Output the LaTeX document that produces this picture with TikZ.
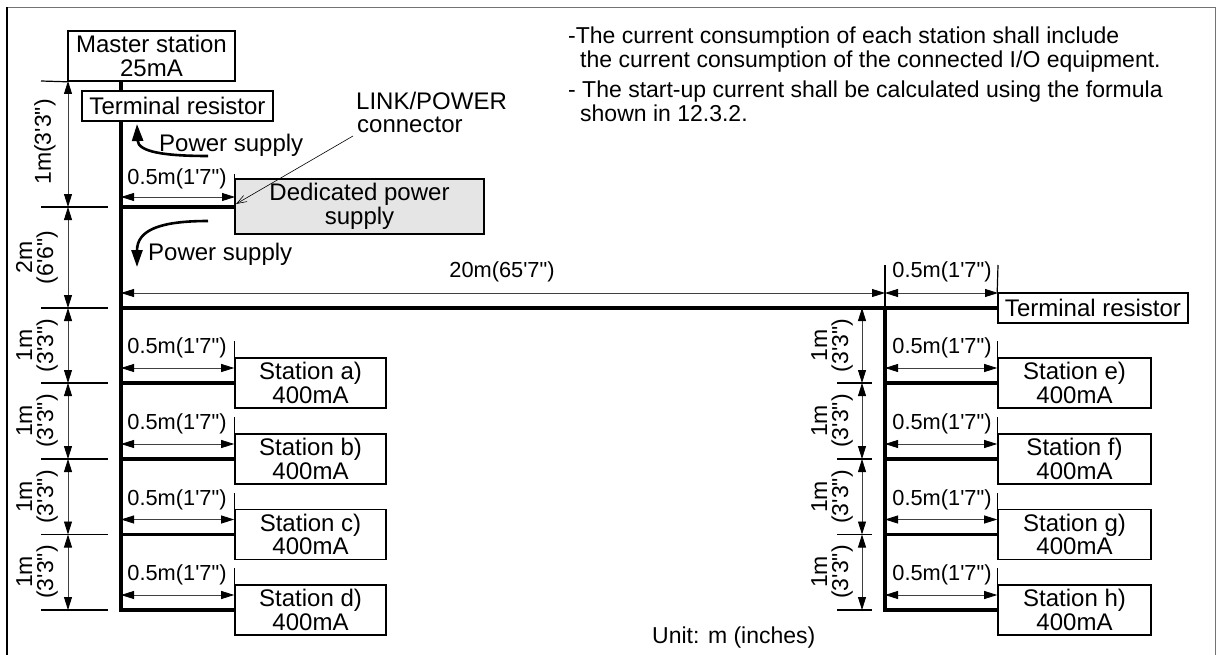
\documentclass[tikz,border=0pt]{standalone}
\usepackage{fontspec}
\setmainfont{Liberation Sans}[Ligatures=TeXOff]
\usetikzlibrary{arrows.meta,backgrounds}
\newcommand\mainfs{\fontsize{24}{23.5}\selectfont}
\newcommand\notefs{\fontsize{23}{24}\selectfont}
\newcommand\dimfs{\fontsize{21.8}{22}\selectfont}
\newcommand\vdimfs{\fontsize{23}{21}\selectfont}
\begin{document}
\begin{tikzpicture}[x=1pt,y=-1pt,
  box/.style={draw,line width=1.6pt,fill=white,inner sep=0pt,align=center,font=\mainfs},
  station/.style={box,minimum width=151pt,minimum height=50pt},
  stationR/.style={box,minimum width=153pt,minimum height=50pt},
  bus/.style={line width=3.4pt,line cap=rect},
  ext/.style={line width=1.2pt},
  dim/.style={line width=0.8pt,black!75,{Triangle[length=13pt,width=8pt,color=black]}-{Triangle[length=13pt,width=8pt,color=black]}},
  dimlbl/.style={font=\dimfs,inner sep=0pt},
  vlbl/.style={font=\vdimfs,inner sep=0pt,rotate=90,align=center},
  txt/.style={font=\mainfs,inner sep=0pt},
  note/.style={font=\notefs,inner sep=0pt,anchor=base west},
  flow/.style={line width=2.6pt,-{Triangle[length=17pt,width=11pt]}}]
\useasboundingbox (0,0) rectangle (1217,655);
% frame
\draw[line width=1.2pt,black!55] (7,7.5) -- (1215.5,7.5) -- (1215.5,670);
\draw[line width=1.2pt] (7,670) -- (7,7.5);

% boxes
\node[box,minimum width=167pt,minimum height=50pt] (master) at (151.5,56) {Master station\\25mA};
\node[box,minimum width=191pt,minimum height=30pt] (trL) at (177.5,106) {Terminal resistor};
\node[box,fill=black!10,minimum width=249pt,minimum height=55pt] (ps) at (359.5,206.5) {Dedicated power\\supply};
\node[box,minimum width=190pt,minimum height=30pt] (trR) at (1093,308) {Terminal resistor};
\node[station] (sa) at (310.5,383) {Station a)\\400mA};
\node[station] (sb) at (310.5,459) {Station b)\\400mA};
\node[station] (sc) at (310.5,534.5) {Station c)\\400mA};
\node[station] (sd) at (310.5,610) {Station d)\\400mA};
\node[stationR] (se) at (1074.5,383) {Station e)\\400mA};
\node[stationR] (sf) at (1074.5,459) {Station f)\\400mA};
\node[stationR] (sg) at (1074.5,534.5) {Station g)\\400mA};
\node[stationR] (sh) at (1074.5,610) {Station h)\\400mA};

% junctions
\coordinate (mtap) at (121,81);
\coordinate (jps) at (121,207);
\coordinate (jh) at (121,308);
\coordinate (kh) at (885,308);

% buses on background
\begin{scope}[on background layer]
\draw[bus] (mtap) -- (sd.west -| mtap) -- (sd.west);
\draw[bus] (jps) -- (jps -| ps.west);
\draw[bus] (jh) -- (trR.west);
\draw[bus] (kh) -- (sh.west -| kh) -- (sh.west);
\foreach \s in {sa,sb,sc}{\draw[bus] (\s.west -| mtap) -- (\s.west);}
\foreach \s in {se,sf,sg}{\draw[bus] (\s.west -| kh) -- (\s.west);}
\end{scope}

% left vertical dimensions
\draw[ext] (41,81) -- (master.south west);
\foreach \yy in {207,308,383,459,534.5,610}{\draw[ext] (41,\yy) -- (108,\yy);}
\draw[dim] (68,81) -- (68,207);
\draw[dim] (68,207) -- (68,308);
\draw[dim] (68,308) -- (68,383);
\draw[dim] (68,383) -- (68,459);
\draw[dim] (68,459) -- (68,534.5);
\draw[dim] (68,534.5) -- (68,610);
\node[vlbl] (l1) at (45,142) {1m(3'3")};
\node[vlbl] (l2) at (37,257.5) {2m\\(6'6")};
\node[vlbl] (l3) at (37,345.5) {1m\\(3'3")};
\node[vlbl] (l4) at (37,421) {1m\\(3'3")};
\node[vlbl] (l5) at (37,497) {1m\\(3'3")};
\node[vlbl] (l6) at (37,572) {1m\\(3'3")};

% right vertical dimensions
\foreach \yy in {383,459,534.5,610}{\draw[ext] (837,\yy) -- (872,\yy);}
\draw[dim] (862,308) -- (862,383);
\draw[dim] (862,383) -- (862,459);
\draw[dim] (862,459) -- (862,534.5);
\draw[dim] (862,534.5) -- (862,610);
\node[vlbl] (r3) at (832,345.5) {1m\\(3'3")};
\node[vlbl] (r4) at (832,421) {1m\\(3'3")};
\node[vlbl] (r5) at (832,497) {1m\\(3'3")};
\node[vlbl] (r6) at (832,572) {1m\\(3'3")};

% horizontal dimensions
\draw[ext] (ps.north west) -- ++(0,-4);
\draw[dim] (121,197) -- (235,197);
\node[dimlbl] (dps) at (177,179) {0.5m(1'7")};
\draw[ext] (885,265) -- (kh);
\draw[ext] (trR.north west) -- (998,265);
\draw[dim] (121,293) -- (885,293);
\node[dimlbl] (d20) at (502,272) {20m(65'7")};
\draw[dim] (885,293) -- (998,293);
\node[dimlbl] (dtr) at (942,272) {0.5m(1'7")};
\foreach \s in {sa,sb,sc,sd}{
  \draw[ext] (\s.north west) -- ++(0,-16);
  \draw[dim] ([yshift=15pt]\s.west -| mtap) -- ([yshift=15pt]\s.west);
  \node[dimlbl] at ([yshift=35pt]\s.west -| 177,0) {0.5m(1'7")};
}
\foreach \s in {se,sf,sg,sh}{
  \draw[ext] (\s.north west) -- ++(0,-16);
  \draw[dim] ([yshift=15pt]\s.west -| kh) -- ([yshift=15pt]\s.west);
  \node[dimlbl] at ([yshift=35pt]\s.west -| 942,0) {0.5m(1'7")};
}

% power supply flows
\node[txt,anchor=base west] (pf1) at (159,152) {Power supply};
\node[txt,anchor=base west] (pf2) at (148,260) {Power supply};
\draw[flow] (208,156) .. controls (165,156) and (138,152) .. (137,124);
\draw[flow] (208,221) .. controls (160,221) and (137,230) .. (137,267);

% LINK/POWER connector label
\node[txt,anchor=base west] (lk1) at (356,110) {LINK/POWER};
\node[txt,anchor=base west] (lk2) at (357,133) {connector};
\coordinate (lktip) at (236,204);
\draw[line width=0.6pt,-{Straight Barb[length=10pt,width=7pt]}] (lk2.base west) ++(-4,3) -- (lktip);

% notes
\node[note] (n1) at (568,44) {-The current consumption of each station shall include};
\node[note] (n2) at (580,68) {the current consumption of the connected I/O equipment.};
\node[note] (n3) at (568,98) {- The start-up current shall be calculated using the formula};
\node[note] (n4) at (580,122) {shown in 12.3.2.};
\node[note] (unit) at (652,643) {Unit: m (inches)};
\end{tikzpicture}
\end{document}
